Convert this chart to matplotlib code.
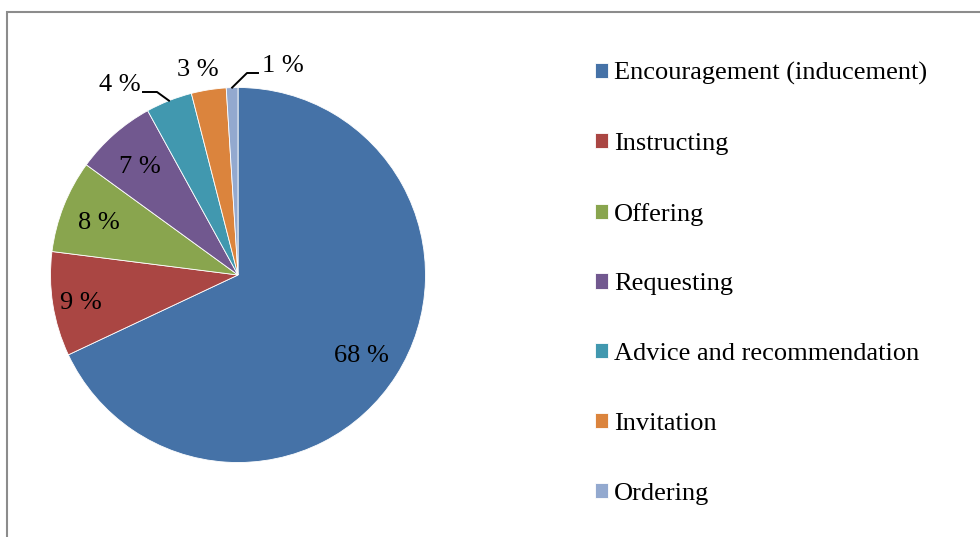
import matplotlib
matplotlib.use("Agg")
import numpy as np
import matplotlib.pyplot as plt
from matplotlib.patches import Rectangle

# -----------------------------
# DATA
# -----------------------------
categories = ["Encouragement (inducement)", "Instructing", "Offering", "Requesting",
              "Advice and recommendation", "Invitation", "Ordering"]
shares = [68, 9, 8, 7, 4, 3, 1]
colors = ["#4572A7", "#AA4643", "#89A54E", "#71588F", "#4198AF", "#DB843D", "#93A9CF"]

# -----------------------------
# LAYOUT (pixel space, y measured from top)
# -----------------------------
W, H = 980, 537
CENTER = (238, 275)
RADIUS = 187.5
FONT = "Liberation Serif"
FS = 19
TEXT_DROP = 3  # matplotlib centres on the full bbox, nudge digits down a bit

# label radius (fraction of pie radius) for the labels that sit inside
INSIDE_R = [0.78, 0.85, 0.80, 0.79]
# outside labels: text anchor point + elbow of leader line (None = no leader)
OUTSIDE = {
    4: dict(text=(141, 82), ha="right", elbow=(157, 92), end=(143, 92)),
    5: dict(text=(198, 67), ha="center", elbow=None, end=None),
    6: dict(text=(262, 63), ha="left", elbow=(247, 73), end=(258, 73)),
}


def Y(y):
    return H - y


fig = plt.figure(figsize=(W / 100, H / 100), dpi=100)
ax = fig.add_axes([0, 0, 1, 1])

# chart border
ax.add_patch(Rectangle((7, -20), W + 20, Y(12) + 20, fill=False,
                       edgecolor="#8c8c8c", linewidth=1.5))

wedges, _ = ax.pie(shares, colors=colors, startangle=90, counterclock=False,
                   center=(CENTER[0], Y(CENTER[1])), radius=RADIUS,
                   wedgeprops=dict(edgecolor="white", linewidth=0.6),
                   frame=True)
ax.set_xlim(0, W)
ax.set_ylim(0, H)
ax.set_aspect("equal")
ax.axis("off")

for i, w in enumerate(wedges):
    mid = np.deg2rad((w.theta1 + w.theta2) / 2)
    lab = f"{shares[i]} %"
    if i < len(INSIDE_R):
        r = RADIUS * INSIDE_R[i]
        x = CENTER[0] + r * np.cos(mid)
        y = Y(CENTER[1]) + r * np.sin(mid) - TEXT_DROP
        ax.text(x, y, lab, ha="center", va="center", fontsize=FS, family=FONT)
    else:
        o = OUTSIDE[i]
        ax.text(o["text"][0], Y(o["text"][1]) - TEXT_DROP, lab, ha=o["ha"],
                va="center", fontsize=FS, family=FONT)
        if o["elbow"] is not None:
            ex = CENTER[0] + RADIUS * np.cos(mid)
            ey = Y(CENTER[1]) + RADIUS * np.sin(mid)
            ax.plot([ex, o["elbow"][0], o["end"][0]],
                     [ey, Y(o["elbow"][1]), Y(o["end"][1])],
                     color="black", linewidth=1.4)

leg = ax.legend(wedges, categories, loc="upper left",
                bbox_to_anchor=(595, Y(62)), bbox_transform=ax.transData,
                frameon=False, prop=dict(family=FONT, size=FS),
                handlelength=0.5, handleheight=0.5, handletextpad=0.22,
                labelspacing=1.81, borderpad=0, borderaxespad=0)

fig.savefig("out.png", dpi=100)
